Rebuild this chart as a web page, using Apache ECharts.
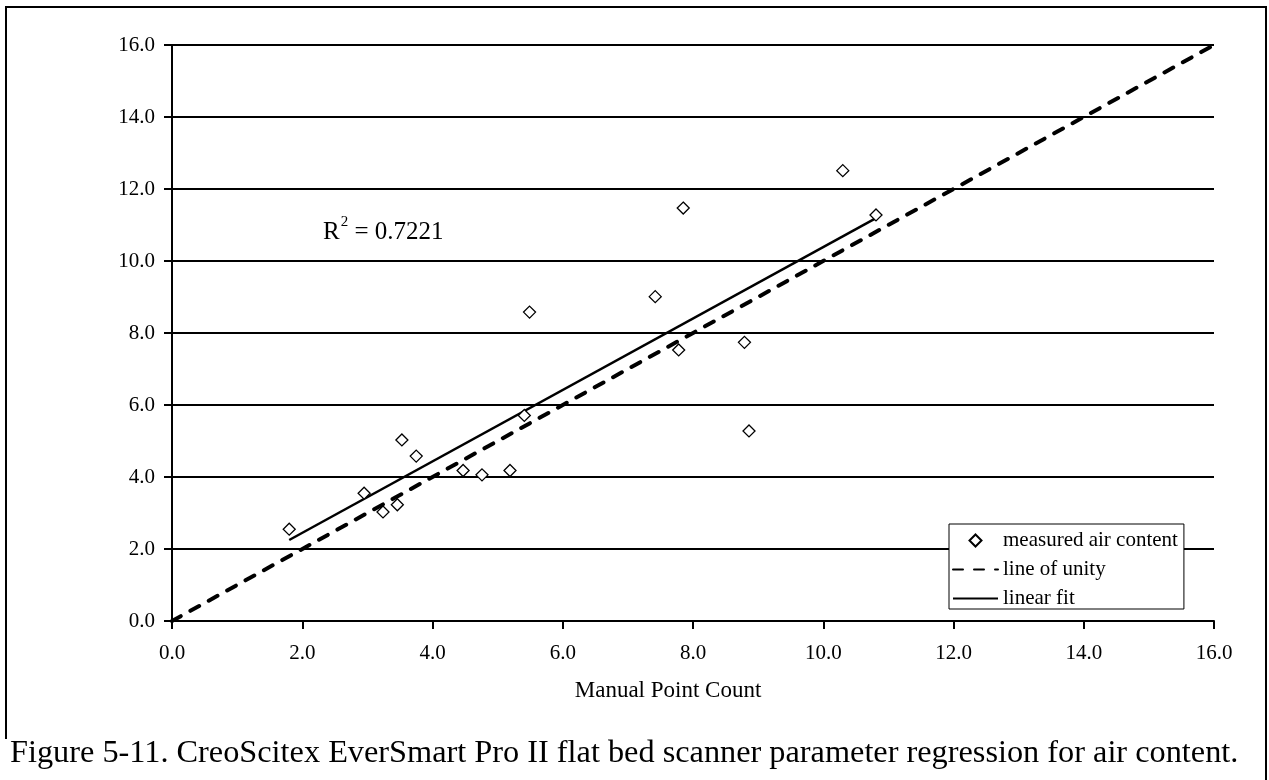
<!DOCTYPE html>
<html>
<head>
<meta charset="utf-8">
<title>Manual Point Count regression</title>
<script src="https://cdn.jsdelivr.net/npm/echarts@6/dist/echarts.min.js"></script>
<style>
  html, body { margin: 0; padding: 0; background: #fff; }
  #chart { width: 1269px; height: 780px; }
</style>
</head>
<body>
<div id="chart"></div>
<script>
// measured air content points (manual point count vs scanner)
const manualCount = [1.80, 2.95, 3.24, 3.46, 3.53, 3.75, 4.47, 4.76, 5.19, 5.41, 5.49, 7.42, 7.78, 7.85, 8.79, 8.86, 10.30, 10.81];
const scannerAir  = [2.55, 3.55, 3.03, 3.23, 5.03, 4.58, 4.18, 4.06, 4.18, 5.71, 8.58, 9.01, 7.53, 11.47, 7.74, 5.28, 12.51, 11.28];
// line of unity end points
const unityX = [0, 16];
const unityY = [0, 16];
// linear fit end points
const fitX = [1.80, 10.81];
const fitY = [2.25, 11.19];
const rSquared = "0.7221";

const serif = '"Liberation Serif", "Times New Roman", serif';

let myChart = echarts.init(document.getElementById("chart"));

let option = {
  animation: false,
  backgroundColor: "#fff",
  textStyle: { fontFamily: serif, color: "#000" },
  grid: { left: 172, right: 55, top: 45, bottom: 159 },
  legend: {
    orient: "vertical",
    left: 949,
    top: 524,
    width: 233,
    padding: [6, 6, 0, 3],
    itemWidth: 45,
    itemHeight: 12,
    itemGap: 8,
    symbolKeepAspect: true,
    backgroundColor: "#fff",
    borderColor: "#000",
    borderWidth: 1,
    selectedMode: false,
    textStyle: { fontFamily: serif, fontSize: 21, color: "#000" },
    data: [
      // path diamond so it keeps its aspect inside the wide icon box
      { name: "measured air content", icon: "path://M0,-1L1,0L0,1L-1,0Z" },
      { name: "line of unity" },
      { name: "linear fit" }
    ]
  },
  xAxis: {
    type: "value",
    min: 0,
    max: 16,
    interval: 2,
    name: "Manual Point Count",
    nameLocation: "middle",
    nameGap: 58,
    nameTextStyle: { fontFamily: serif, fontSize: 23, color: "#000", padding: [0, 50, 0, 0] },
    axisLine: { onZero: false, lineStyle: { color: "#000", width: 2 } },
    axisTick: { show: true, inside: false, length: 8, lineStyle: { color: "#000", width: 2 } },
    axisLabel: { fontFamily: serif, fontSize: 21, color: "#000", margin: 22, formatter: v => v.toFixed(1) },
    splitLine: { show: false }
  },
  yAxis: {
    type: "value",
    min: 0,
    max: 16,
    interval: 2,
    axisLine: { show: true, lineStyle: { color: "#000", width: 2 } },
    axisTick: { show: true, inside: false, length: 8, lineStyle: { color: "#000", width: 2 } },
    axisLabel: { fontFamily: serif, fontSize: 21, color: "#000", margin: 17, formatter: v => v.toFixed(1) },
    splitLine: { show: true, lineStyle: { color: "#000", width: 2 } }
  },
  series: [
    {
      name: "line of unity",
      type: "line",
      symbol: "none",
      showSymbol: false,
      data: unityX.map((x, i) => [x, unityY[i]]),
      itemStyle: { color: "#000", opacity: 0 },
      lineStyle: { color: "#000", width: 4, type: [10, 11], cap: "round", opacity: 1 },
      z: 3
    },
    {
      name: "linear fit",
      type: "line",
      symbol: "none",
      showSymbol: false,
      data: fitX.map((x, i) => [x, fitY[i]]),
      itemStyle: { color: "#000", opacity: 0 },
      lineStyle: { color: "#000", width: 2.5, type: "solid", opacity: 1 },
      z: 4
    },
    {
      name: "measured air content",
      type: "scatter",
      symbol: "diamond",
      symbolSize: 12,
      data: manualCount.map((x, i) => [x, scannerAir[i]]),
      itemStyle: { color: "#fff", borderColor: "#000", borderWidth: 1.3, opacity: 1 },
      z: 5
    }
  ],
  graphic: [
    {
      // outer chart frame
      type: "rect",
      z: 0,
      shape: { x: 6, y: 7, width: 1260, height: 800 },
      style: { fill: "none", stroke: "#000", lineWidth: 2 },
      silent: true
    },
    {
      type: "text",
      left: 323,
      top: 215,
      z: 10,
      style: {
        text: "{a|R}{s|2}{a| = " + rSquared + "}",
        rich: {
          a: { fontFamily: serif, fontSize: 25, color: "#000", lineHeight: 30, verticalAlign: "bottom" },
          s: { fontFamily: serif, fontSize: 15, color: "#000", lineHeight: 30, verticalAlign: "top", padding: [0, 0, 12, 1] }
        }
      }
    },
    {
      // white band under the caption hides the frame's lower left part
      type: "rect",
      z: 8,
      shape: { x: 0, y: 739, width: 1248, height: 41 },
      style: { fill: "#fff" },
      silent: true
    },
    {
      type: "text",
      left: 10,
      top: 738,
      z: 10,
      style: {
        text: "Figure 5-11. CreoScitex EverSmart Pro II flat bed scanner parameter regression for air content.",
        fontFamily: serif,
        fontSize: 32.3,
        fill: "#000"
      }
    }
  ]
};

myChart.setOption(option);
</script>
</body>
</html>
